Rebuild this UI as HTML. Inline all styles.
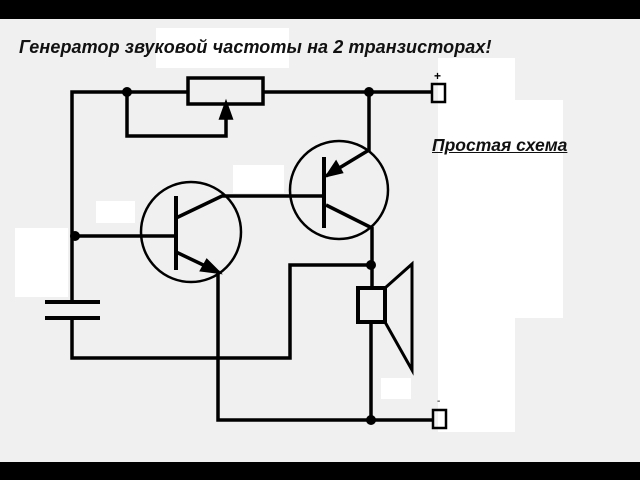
<!DOCTYPE html>
<html><head><meta charset="utf-8"><style>
html,body{margin:0;padding:0;}
body{width:640px;height:480px;background:#f0f0f0;position:relative;overflow:hidden;font-family:"Liberation Sans","DejaVu Sans",sans-serif;}
.w{position:absolute;background:#fff;}
.bar{position:absolute;left:0;width:640px;background:#000;}
.t{position:absolute;font-weight:bold;font-style:italic;color:#111;white-space:nowrap;}
</style></head><body>
<div class="bar" style="top:0;height:19px"></div>
<div class="bar" style="top:462px;height:18px"></div>
<div class="w" style="left:156px;top:28px;width:133px;height:40px"></div>
<div class="w" style="left:438px;top:58px;width:77px;height:374px"></div>
<div class="w" style="left:438px;top:100px;width:125px;height:218px"></div>
<div class="w" style="left:96px;top:201px;width:39px;height:22px"></div>
<div class="w" style="left:233px;top:165px;width:51px;height:28px"></div>
<div class="w" style="left:15px;top:228px;width:53px;height:69px"></div>
<div class="w" style="left:381px;top:378px;width:30px;height:21px"></div>
<div class="t" style="left:19px;top:37px;font-size:18px;letter-spacing:0.1px">Генератор звуковой частоты на 2 транзисторах!</div>
<div class="t" style="left:432px;top:135px;font-size:17.5px;text-decoration:underline">Простая схема</div>
<svg width="640" height="480" style="position:absolute;left:0;top:0" fill="none" stroke="#000" stroke-width="3.5">
<path d="M72 300 V92 H188 M263 92 H431"/>
<rect x="188" y="78" width="75" height="26"/>
<path d="M127 92 V136 H226 V112"/>
<path d="M226 104 l-5 14 h10 z" fill="#000"/>
<rect x="432" y="84" width="13" height="18" stroke-width="2.5"/>
<text x="434" y="80" font-size="12" fill="#000" stroke="none" font-family="Liberation Sans" font-weight="bold">+</text>
<path d="M75 236 H176"/>
<path d="M45 302 H100 M45 318 H100" stroke-width="4"/>
<path d="M72 318 V358 H290 V265 H371"/>
<circle cx="191" cy="232" r="50" stroke-width="2.5"/>
<path d="M176 196 V270" stroke-width="4"/>
<path d="M176 218 L222 196 H324"/>
<path d="M176 252 L218 272 V420 H432"/>
<path d="M218 272 l-16 -2 l5 -9 z" fill="#000"/>
<rect x="433" y="410" width="13" height="18" stroke-width="2.5"/>
<text x="437" y="404" font-size="10" fill="#000" stroke="none" font-family="Liberation Sans">-</text>
<circle cx="339" cy="190" r="49" stroke-width="2.5"/>
<path d="M324 157 V228" stroke-width="4"/>
<path d="M369 92 V150 L326 176"/>
<path d="M328 175 l8 -12 l5 9 z" fill="#000"/>
<path d="M326 205 L372 228 V288 M371 322 V420"/>
<rect x="358" y="288" width="27" height="34" stroke-width="4"/>
<path d="M385 288 L412 264 V370 L385 322" stroke-width="3"/>
<g fill="#000" stroke="none">
<circle cx="127" cy="92" r="5"/><circle cx="369" cy="92" r="5"/>
<circle cx="75" cy="236" r="5"/><circle cx="371" cy="265" r="5"/>
<circle cx="371" cy="420" r="5"/>
</g>
</svg>
</body></html>
